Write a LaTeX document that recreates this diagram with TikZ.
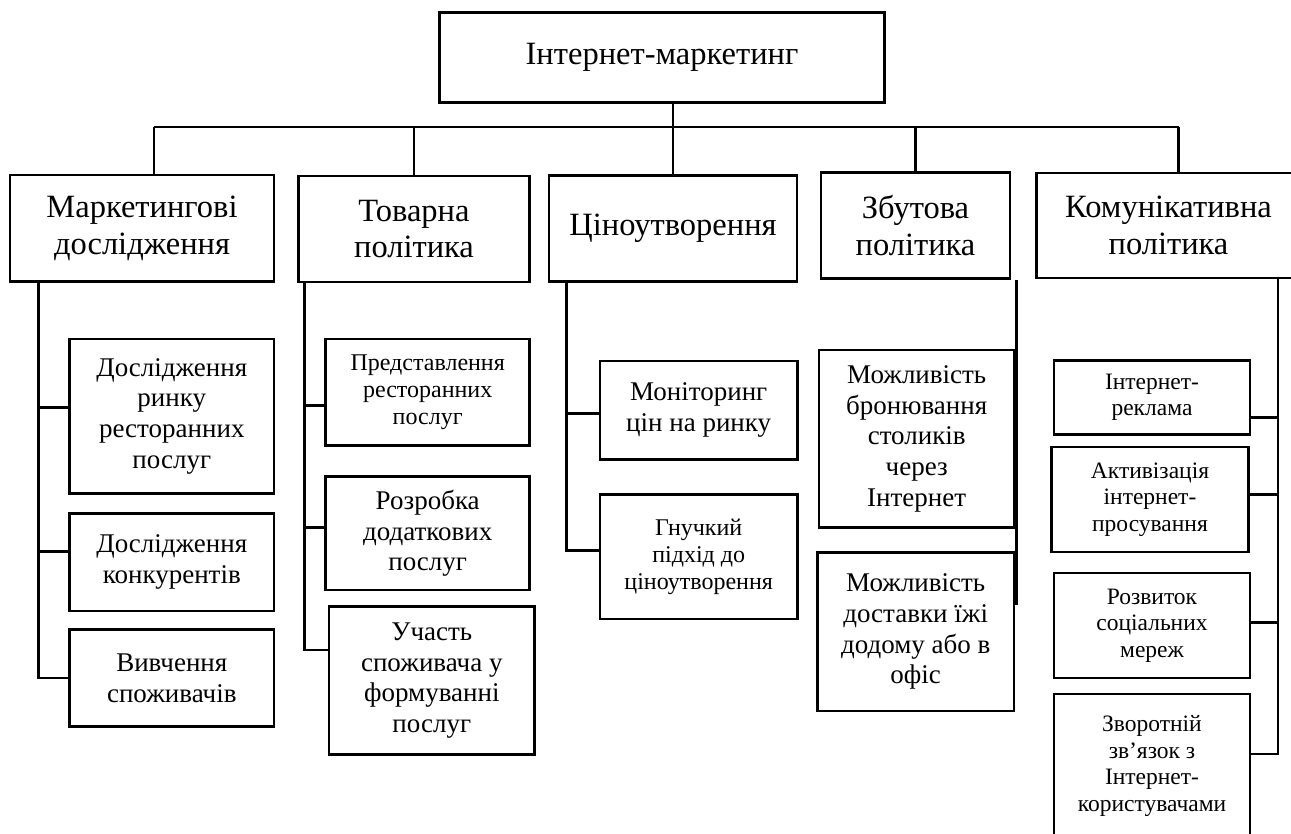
\documentclass[tikz,border=0pt]{standalone}
\usepackage{fontspec}
\setmainfont{Liberation Serif}
\begin{document}
\begin{tikzpicture}[x=1pt,y=-1pt]

	\tikzset{
	  box/.style={
		draw,
		line width=2.6pt,
		inner sep=0pt,
		align=center,
	  },
	  lvltop/.style={box,font=\fontsize{32.5}{36.7}\selectfont},
	  lvlone/.style={box,font=\fontsize{32.5}{36.7}\selectfont},
	  subbox/.style={box,font=\fontsize{27}{30.7}\selectfont},
	  subsmall/.style={box,font=\fontsize{24}{27}\selectfont},
	  conn/.style={line width=2.6pt},
	}
	\useasboundingbox (0,0) rectangle (1291,834);
	\clip (0,0) rectangle (1291,834);

	\node[lvltop,minimum width=445.5,minimum height=90] (inet) at (662,57.7) {Інтернет-маркетинг};

	\node[lvlone,minimum width=264,minimum height=106.7] (mrk) at (142,228.3) {Маркетингові\\дослідження};
	\node[lvlone,minimum width=231.5,minimum height=106] (tov) at (414,229) {Товарна\\політика};
	\node[lvlone,minimum width=248,minimum height=106] (price) at (673,228.7) {Ціноутворення};
	\node[lvlone,minimum width=189,minimum height=106] (sales) at (915.5,225.7) {Збутова\\політика};
	\node[lvlone,minimum width=264,minimum height=105] (comm) at (1168.5,225.5) {Комунікативна\\політика};

	\node[subbox,minimum width=204.4,minimum height=154.3] (mrk1) at (171.8,416.2) {Дослідження\\ринку\\ресторанних\\послуг};
	\node[subbox,minimum width=204.4,minimum height=97.7] (mrk2) at (171.8,562.2) {Дослідження\\конкурентів};
	\node[subbox,minimum width=204.4,minimum height=97.4] (mrk3) at (171.8,678) {Вивчення\\споживачів};

	\node[subsmall,minimum width=203.9,minimum height=106.7] (tov1) at (427.7,392.3) {Представлення\\ресторанних\\послуг};
	\node[subbox,minimum width=203.9,minimum height=113.3] (tov2) at (427.7,533.3) {Розробка\\додаткових\\послуг};
	\node[subbox,minimum width=205.6,minimum height=147.6] (tov3) at (431.8,680.5) {Участь\\споживача у\\формуванні\\послуг};

	\node[subbox,minimum width=197.3,minimum height=98.3] (price1) at (698.7,410.2) {Моніторинг\\цін на ринку};
	\node[subsmall,minimum width=197.3,minimum height=124.7] (price2) at (698.7,556.7) {Гнучкий\\підхід до\\ціноутворення};

	\node[subbox,minimum width=195.3,minimum height=177.3] (sales1) at (916.7,438.7) {Можливість\\бронювання\\столиків\\через\\Інтернет};
	\node[subbox,minimum width=196.7,minimum height=158.7] (sales2) at (915.7,631.7) {Можливість\\доставки їжі\\додому або в\\офіс};

	\node[subsmall,font=\fontsize{23.5}{26.5}\selectfont,minimum width=196,minimum height=73.8] (comm1) at (1152,397.5) {Інтернет-\\реклама};
	\node[subsmall,font=\fontsize{23.5}{26.5}\selectfont,minimum width=196.6,minimum height=105] (comm2) at (1150,499.5) {Активізація\\інтернет-\\просування};
	\node[subsmall,font=\fontsize{23.5}{26.5}\selectfont,minimum width=196,minimum height=105] (comm3) at (1152,625.5) {Розвиток\\соціальних\\мереж};
	\node[subsmall,font=\fontsize{23.5}{26.5}\selectfont,minimum width=196,minimum height=144] (comm4) at (1152,766) {Зворотній\\зв’язок з\\Інтернет-\\користувачами};

	\coordinate (busL) at (154,127);
	\coordinate (busR) at (1178.5,127);
	\draw[conn] (busL) -- (busR);
	\draw[conn] (inet.south -| price.north) -- (price.north);
	\draw[conn] (busL) -- (busL |- mrk.north);
	\draw[conn] (tov.north |- busL) -- (tov.north);
	\draw[conn] (sales.north |- busL) -- (sales.north);
	\draw[conn] (busR) -- (busR |- comm.north);

	\coordinate (mrkv) at ([xshift=30]mrk.south west);
	\draw[conn] (mrkv) |- (mrk3.west);
	\draw[conn] ([yshift=9]mrk1.west) -- ([yshift=9]mrk1.west -| mrkv);
	\draw[conn] ([yshift=11]mrk2.west) -- ([yshift=11]mrk2.west -| mrkv);

	\coordinate (tovv) at ([xshift=7.5]tov.south west);
	\draw[conn] (tovv) |- ([yshift=30.5]tov3.west);
	\draw[conn] ([yshift=-13]tov1.west) -- ([yshift=-13]tov1.west -| tovv);
	\draw[conn] ([yshift=6]tov2.west) -- ([yshift=6]tov2.west -| tovv);

	\coordinate (pricev) at ([xshift=18.7]price.south west);
	\draw[conn] (pricev) |- ([yshift=6]price2.west);
	\draw[conn] ([yshift=-3]price1.west) -- ([yshift=-3]price1.west -| pricev);

	\coordinate (salesv) at ([xshift=5]sales.south east);
	\coordinate (salesend) at ([yshift=27]sales2.east);
	\draw[conn] (salesv) -- (salesv |- salesend);

	\coordinate (commv) at ([xshift=109.5]comm.south);
	\draw[conn] (commv) |- ([yshift=12]comm4.east);
	\draw[conn] ([yshift=-20]comm1.east) -- ([yshift=-20]comm1.east -| commv);
	\draw[conn] ([yshift=5]comm2.east) -- ([yshift=5]comm2.east -| commv);
	\draw[conn] ([yshift=3]comm3.east) -- ([yshift=3]comm3.east -| commv);

\end{tikzpicture}
\end{document}
